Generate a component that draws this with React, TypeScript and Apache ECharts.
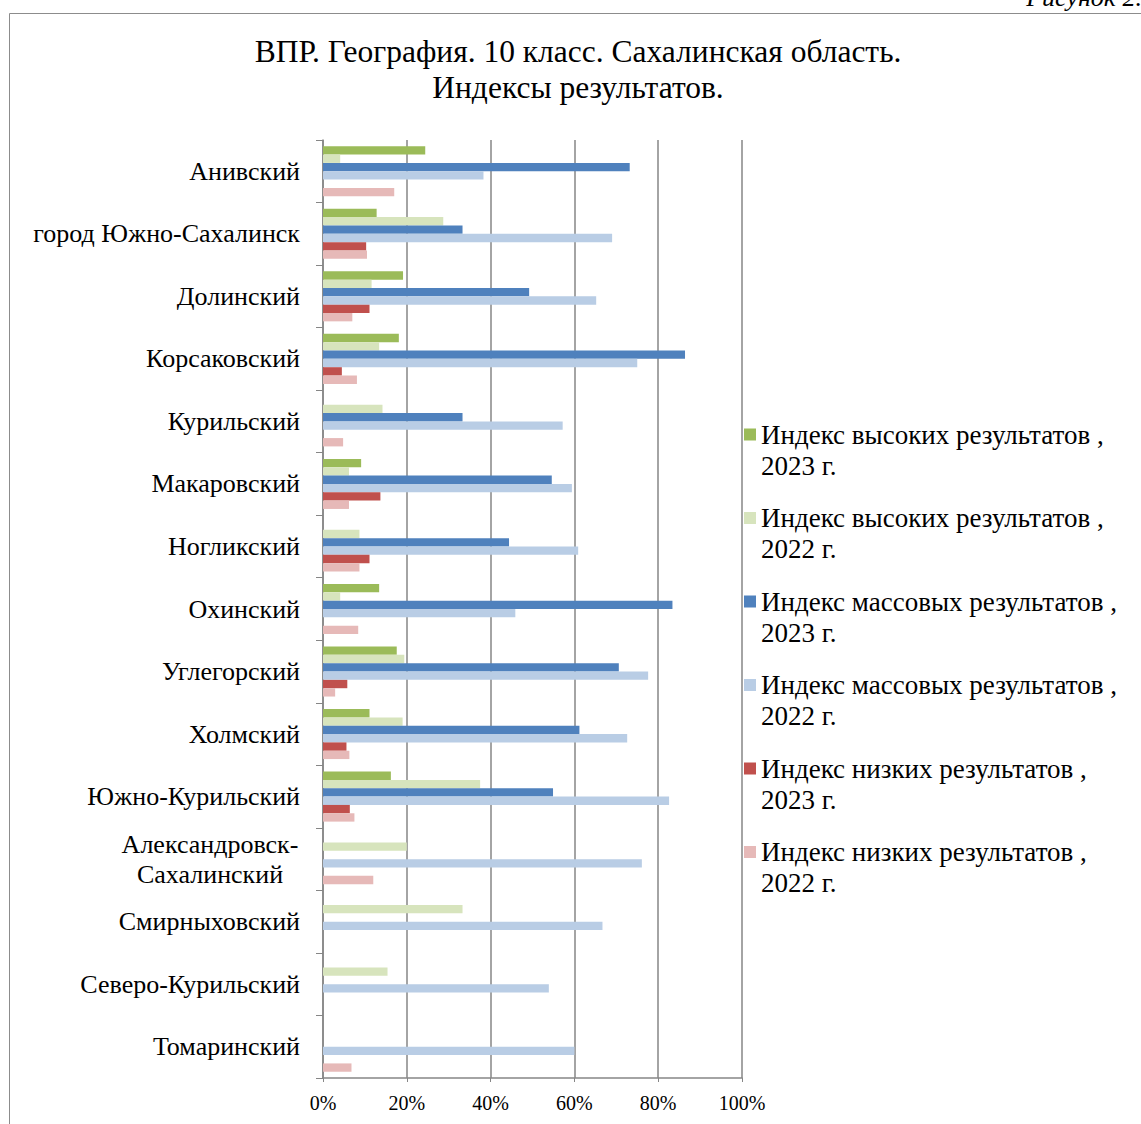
import React, { useEffect, useRef } from "react";
import * as echarts from "echarts";

const categories = [
  "Анивский",
  "город Южно-Сахалинск",
  "Долинский",
  "Корсаковский",
  "Курильский",
  "Макаровский",
  "Ногликский",
  "Охинский",
  "Углегорский",
  "Холмский",
  "Южно-Курильский",
  "Александровск-\nСахалинский",
  "Смирныховский",
  "Северо-Курильский",
  "Томаринский",
];

const high2023 = [24.4, 12.8, 19.1, 18.1, null, 9.1, null, 13.4, 17.6, 11.1, 16.2, null, null, null, null];
const high2022 = [4.1, 28.7, 11.6, 13.4, 14.2, 6.2, 8.7, 4.1, 19.4, 19.0, 37.5, 20.0, 33.3, 15.4, null];
const mass2023 = [73.2, 33.3, 49.2, 86.4, 33.3, 54.6, 44.4, 83.4, 70.6, 61.2, 54.9, null, null, null, null];
const mass2022 = [38.3, 69.0, 65.2, 75.0, 57.2, 59.4, 60.9, 45.9, 77.6, 72.6, 82.6, 76.1, 66.7, 53.9, 60.0];
const low2023 = [null, 10.3, 11.1, 4.5, null, 13.7, 11.1, null, 5.8, 5.6, 6.4, null, null, null, null];
const low2022 = [17.0, 10.5, 7.0, 8.1, 4.8, 6.2, 8.7, 8.4, 2.9, 6.3, 7.5, 12.0, null, null, 6.8];

const seriesNames = [
  "Индекс высоких результатов ,\n2023 г.",
  "Индекс высоких результатов ,\n2022 г.",
  "Индекс массовых результатов ,\n2023 г.",
  "Индекс массовых результатов ,\n2022 г.",
  "Индекс низких результатов ,\n2023 г.",
  "Индекс низких результатов ,\n2022 г.",
];
const seriesData = [high2023, high2022, mass2023, mass2022, low2023, low2022];
const seriesColors = ["#9BBB59", "#D7E4BD", "#4F81BD", "#B9CDE5", "#C0504D", "#E6B9B8"];

const xTicks = [0, 20, 40, 60, 80, 100];

const FONT = "'Liberation Serif', 'Times New Roman', serif";

export default function App() {
  const ref = useRef<HTMLDivElement>(null);
  useEffect(() => {
    if (!ref.current) return;
    const chart = echarts.init(ref.current, null, { renderer: "svg" });
    chart.setOption({
      animation: false,
      backgroundColor: "#ffffff",
      title: {
        text: "ВПР. География. 10 класс. Сахалинская область.\nИндексы результатов.",
        left: 578,
        top: 33,
        padding: 0,
        textAlign: "center",
        textStyle: {
          fontFamily: FONT,
          fontSize: 31.5,
          fontWeight: "normal",
          color: "#000",
          lineHeight: 36,
        },
      },
      graphic: [
        {
          type: "line",
          shape: { x1: 9.5, y1: 13.5, x2: 1141, y2: 13.5 },
          style: { stroke: "#8c8c8c", lineWidth: 1 },
          silent: true,
        },
        {
          type: "line",
          shape: { x1: 9.5, y1: 13.5, x2: 9.5, y2: 1124 },
          style: { stroke: "#8c8c8c", lineWidth: 1 },
          silent: true,
        },
        {
          type: "text",
          x: 1142,
          y: -3,
          style: {
            text: "Рисунок 2.",
            fontFamily: FONT,
            fontStyle: "italic",
            fontSize: 26,
            fill: "#000",
            align: "right",
            verticalAlign: "middle",
          },
          silent: true,
        },
      ],
      legend: {
        orient: "vertical",
        left: 744,
        top: 388,
        padding: 0,
        itemWidth: 12,
        itemHeight: 12,
        itemGap: -9.5,
        icon: "rect",
        data: seriesNames,
        formatter: (name: string) => "\n" + name,
        textStyle: {
          fontFamily: FONT,
          fontSize: 27,
          color: "#000",
          lineHeight: 31,
        },
      },
      grid: { left: 323, right: 399, top: 140, bottom: 46, containLabel: false },
      xAxis: {
        type: "value",
        min: 0,
        max: 100,
        interval: 20,
        axisLine: { show: true, lineStyle: { color: "#868686", width: 1.5 } },
        axisTick: { show: true, length: 4, lineStyle: { color: "#868686" } },
        splitLine: { show: true, lineStyle: { color: "#868686", width: 1.5 } },
        axisLabel: {
          formatter: (v: number) => (xTicks.includes(v) ? v + "%" : ""),
          fontFamily: FONT,
          fontSize: 20,
          color: "#000",
          margin: 15,
        },
      },
      yAxis: {
        type: "category",
        inverse: true,
        data: categories,
        axisLine: { show: true, lineStyle: { color: "#868686", width: 1.5 } },
        axisTick: { show: true, length: 7, lineStyle: { color: "#868686" } },
        axisLabel: {
          fontFamily: FONT,
          fontSize: 26,
          color: "#000",
          margin: 23,
          lineHeight: 30,
          formatter: (v: string) =>
            v.indexOf("\n") >= 0 ? "{c|" + v + "}" : v,
          rich: {
            c: {
              fontFamily: FONT,
              fontSize: 26,
              color: "#000",
              lineHeight: 30,
              width: 180,
              align: "center",
            },
          },
        },
      },
      series: seriesNames.map((name, i) => ({
        name,
        type: "bar",
        data: seriesData[i],
        barGap: "0%",
        barCategoryGap: "20%",
        itemStyle: { color: seriesColors[i] },
      })),
    });
    return () => chart.dispose();
  }, []);
  return (
    <div
      ref={ref}
      style={{ position: "absolute", left: 0, top: 0, width: 1141, height: 1124 }}
    />
  );
}
